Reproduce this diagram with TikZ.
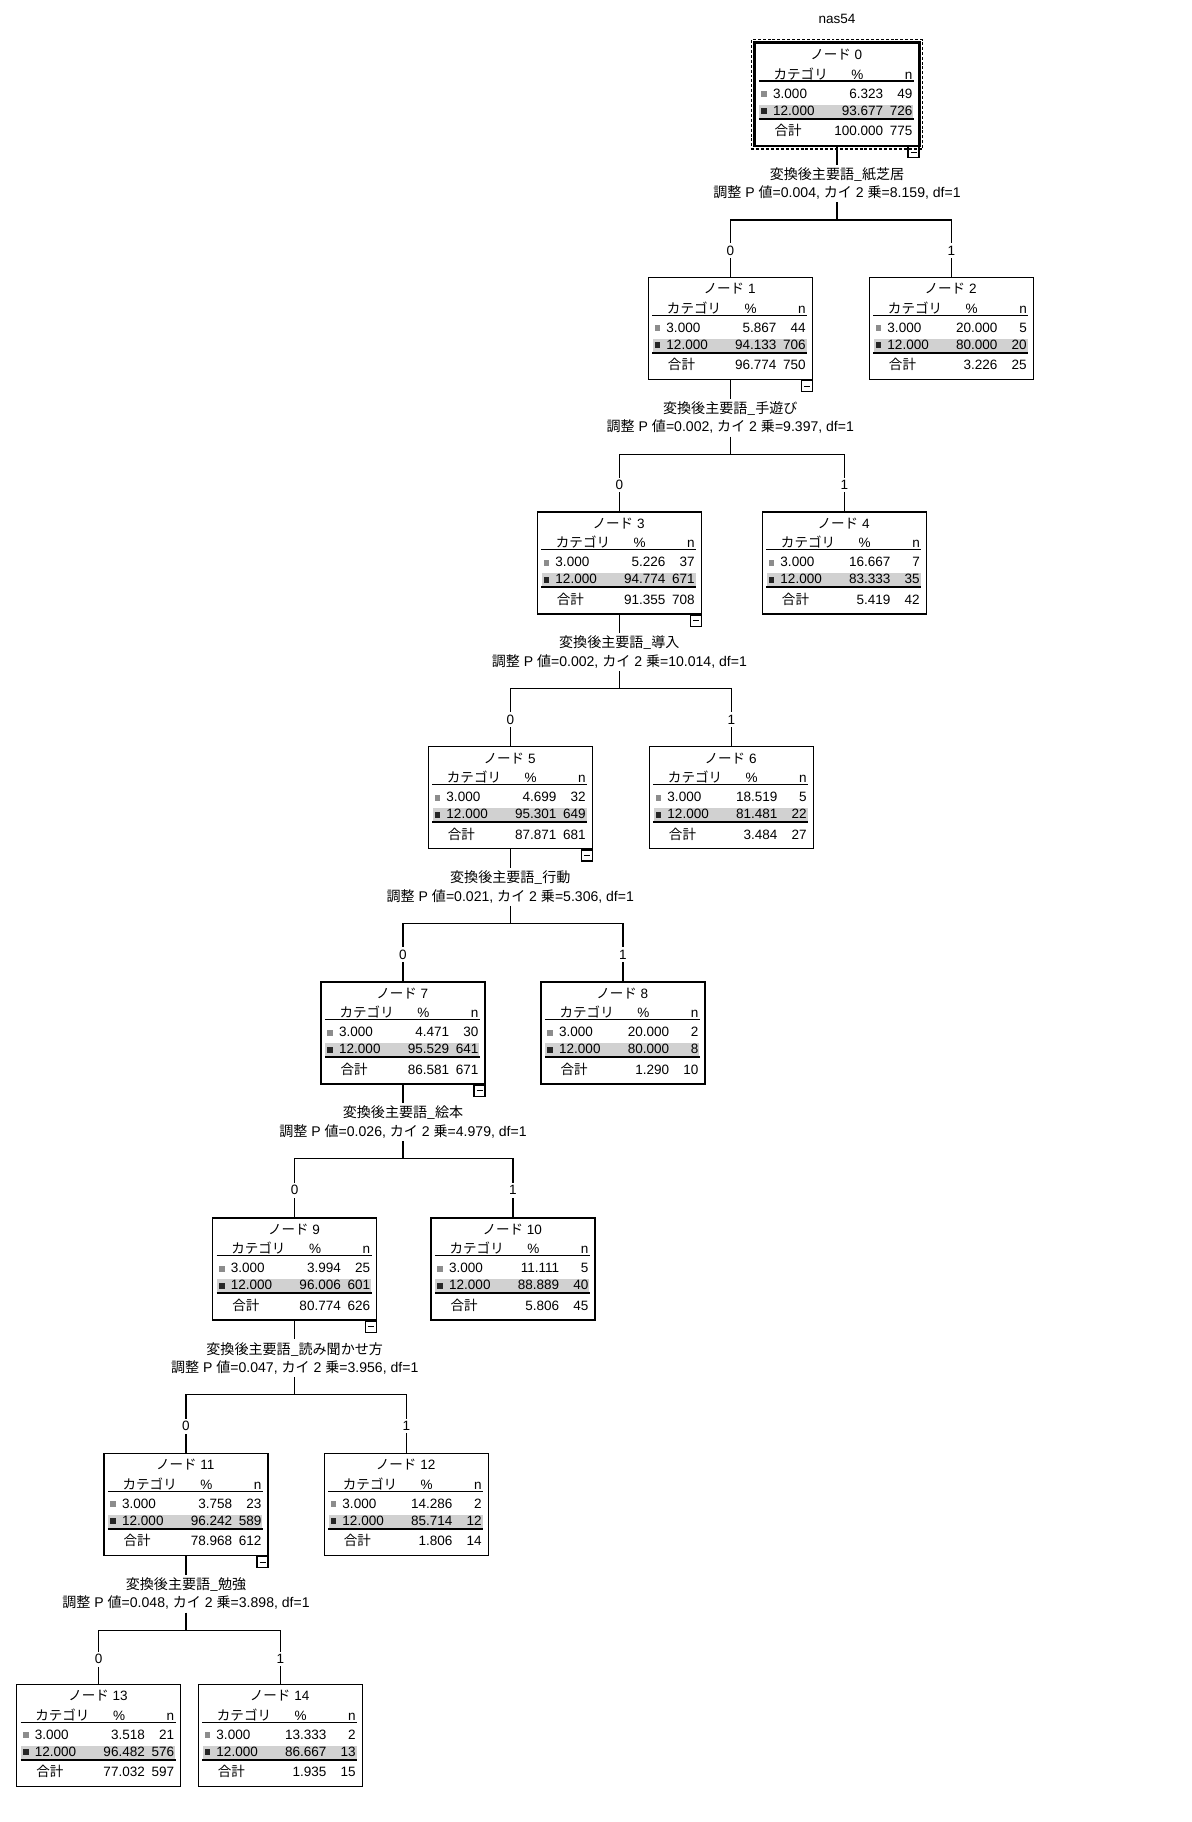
\documentclass[tikz,border=0pt]{standalone}
\usepackage{fontspec}
\setmainfont{Liberation Sans}
\newfontfamily\jp{Noto Sans CJK JP}
\usepackage{tikz}
\usetikzlibrary{positioning,calc,fit}

% one table node: name, centre, number, % and n for 3.000, 12.000 and total
\newcommand{\catnode}[9]{%
  \node[tbox] (#1) at (#2) {};
  \begin{scope}[shift={(#1.north west)}]
    \fill[rowband] (5,-62) rectangle (159,-75.5);
    \fill[iconlight] (7,-48.5) rectangle (12.5,-54.5);
    \fill[icondark] (7,-65.5) rectangle (12.5,-71.5);
    \draw[tabrule] (4.5,-38.5) -- (159.5,-38.5);
    \draw[tabrule, line width=1.1pt] (4.5,-76) -- (159.5,-76);
    \node[cellt, anchor=base] (#1-head) at (82,-17) {{\jp ノード} #3};
    \node[cellt, anchor=base west] (#1-cat) at (19,-36.5) {\jp カテゴリ};
    \node[cellt, anchor=base] (#1-pct) at (103,-36.5) {\%};
    \node[cellt, anchor=base east] (#1-n) at (158.5,-36.5) {n};
    \node[cellt, anchor=base west] (#1-a) at (18.5,-55.5) {3.000};
    \node[cellt, anchor=base east] (#1-ap) at (129.2,-55.5) {#4};
    \node[cellt, anchor=base east] (#1-an) at (158.5,-55.5) {#5};
    \node[cellt, anchor=base west] (#1-b) at (18.5,-72.5) {12.000};
    \node[cellt, anchor=base east] (#1-bp) at (129.2,-72.5) {#6};
    \node[cellt, anchor=base east] (#1-bn) at (158.5,-72.5) {#7};
    \node[cellt, anchor=base west] (#1-t) at (20,-93) {\jp 合計};
    \node[cellt, anchor=base east] (#1-tp) at (129.2,-93) {#8};
    \node[cellt, anchor=base east] (#1-tn) at (158.5,-93) {#9};
  \end{scope}}
\newcommand{\minusmark}[1]{\node[minusbox, anchor=north east] (#1-minus) at (#1.south east) {};}

\begin{document}
\begin{tikzpicture}[
    x=0.02cm, y=0.02cm,
    tbox/.style={rectangle, draw=black, line width=0.8pt, minimum width=3.28cm, minimum height=2.04cm, inner sep=0pt},
    rootframe/.style={draw=black, dashed, dash pattern=on 1.7pt off 1.1pt, line width=0.7pt, inner sep=0.06cm},
    cellt/.style={inner sep=0pt, font=\fontsize{7.7}{9}\selectfont},
    splitlabel/.style={align=center, inner sep=1.5pt, font=\fontsize{8}{10.4}\selectfont},
    branchlabel/.style={fill=white, inner sep=1.5pt, font=\fontsize{7.7}{9}\selectfont},
    conn/.style={line width=0.75pt},
    tabrule/.style={line width=0.7pt},
    rowband/.style={fill=black!18},
    iconlight/.style={fill=black!45},
    icondark/.style={fill=black!85},
    minusbox/.style={rectangle, draw=black, line width=0.7pt, minimum size=0.22cm, inner sep=0pt,
      path picture={\draw[line width=0.6pt] ([xshift=0.05cm]path picture bounding box.west) -- ([xshift=-0.05cm]path picture bounding box.east);}}
]
\fill[white] (0,0) rectangle (1192,-1822);
\useasboundingbox (0,0) rectangle (1192,-1822);

\node[cellt, anchor=base] (title) at (837,-23.3) {nas54};

% Root
\catnode{n0}{837,-94.3}{0}{6.323}{49}{93.677}{726}{100.000}{775}
\draw[line width=1.3pt] (n0.north west) rectangle (n0.south east);
\node[rootframe, fit=(n0)] (n0-frame) {};
\minusmark{n0}

% Nodes
\catnode{n1}{730.3,-328.5}{1}{5.867}{44}{94.133}{706}{96.774}{750}
\catnode{n2}{951.3,-328.5}{2}{20.000}{5}{80.000}{20}{3.226}{25}
\catnode{n3}{619.3,-562.9}{3}{5.226}{37}{94.774}{671}{91.355}{708}
\catnode{n4}{844.3,-562.9}{4}{16.667}{7}{83.333}{35}{5.419}{42}
\catnode{n5}{510.3,-797.7}{5}{4.699}{32}{95.301}{649}{87.871}{681}
\catnode{n6}{731.3,-797.7}{6}{18.519}{5}{81.481}{22}{3.484}{27}
\catnode{n7}{403,-1032.9}{7}{4.471}{30}{95.529}{641}{86.581}{671}
\catnode{n8}{623,-1032.9}{8}{20.000}{2}{80.000}{8}{1.290}{10}
\catnode{n9}{294.7,-1269}{9}{3.994}{25}{96.006}{601}{80.774}{626}
\catnode{n10}{513,-1269}{10}{11.111}{5}{88.889}{40}{5.806}{45}
\catnode{n11}{186,-1504.5}{11}{3.758}{23}{96.242}{589}{78.968}{612}
\catnode{n12}{406.3,-1504.5}{12}{14.286}{2}{85.714}{12}{1.806}{14}
\catnode{n13}{98.7,-1735.4}{13}{3.518}{21}{96.482}{576}{77.032}{597}
\catnode{n14}{280.3,-1735.4}{14}{13.333}{2}{86.667}{13}{1.935}{15}

\minusmark{n1}
\minusmark{n3}
\minusmark{n5}
\minusmark{n7}
\minusmark{n9}
\minusmark{n11}

% Splits
\node[splitlabel] (s0) at ($(n0.south)+(0,-37.5)$) {{\jp 変換後主要語\_紙芝居}\\{\jp 調整} P {\jp 値}=0.004, {\jp カイ} 2 {\jp 乗}=8.159, df=1};
\node[splitlabel] (s1) at ($(n1.south)+(0,-37.5)$) {{\jp 変換後主要語\_手遊び}\\{\jp 調整} P {\jp 値}=0.002, {\jp カイ} 2 {\jp 乗}=9.397, df=1};
\node[splitlabel] (s3) at ($(n3.south)+(0,-37.5)$) {{\jp 変換後主要語\_導入}\\{\jp 調整} P {\jp 値}=0.002, {\jp カイ} 2 {\jp 乗}=10.014, df=1};
\node[splitlabel] (s5) at ($(n5.south)+(0,-37.5)$) {{\jp 変換後主要語\_行動}\\{\jp 調整} P {\jp 値}=0.021, {\jp カイ} 2 {\jp 乗}=5.306, df=1};
\node[splitlabel] (s7) at ($(n7.south)+(0,-37.5)$) {{\jp 変換後主要語\_絵本}\\{\jp 調整} P {\jp 値}=0.026, {\jp カイ} 2 {\jp 乗}=4.979, df=1};
\node[splitlabel] (s9) at ($(n9.south)+(0,-37.5)$) {{\jp 変換後主要語\_読み聞かせ方}\\{\jp 調整} P {\jp 値}=0.047, {\jp カイ} 2 {\jp 乗}=3.956, df=1};
\node[splitlabel] (s11) at ($(n11.south)+(0,-37.5)$) {{\jp 変換後主要語\_勉強}\\{\jp 調整} P {\jp 値}=0.048, {\jp カイ} 2 {\jp 乗}=3.898, df=1};

% Connections
\foreach \p/\l/\r in {0/1/2, 1/3/4, 3/5/6, 5/7/8, 7/9/10, 9/11/12, 11/13/14} {
  \coordinate (b\p) at ($(n\p.south)+(0,-74)$);
  \draw[conn] (n\p) -- (s\p);
  \draw[conn] (s\p) -- (b\p);
  \draw[conn] (b\p) -| (n\l) node[branchlabel, pos=0.77] (z\l) {0};
  \draw[conn] (b\p) -| (n\r) node[branchlabel, pos=0.77] (z\r) {1};
}

\end{tikzpicture}
\end{document}
